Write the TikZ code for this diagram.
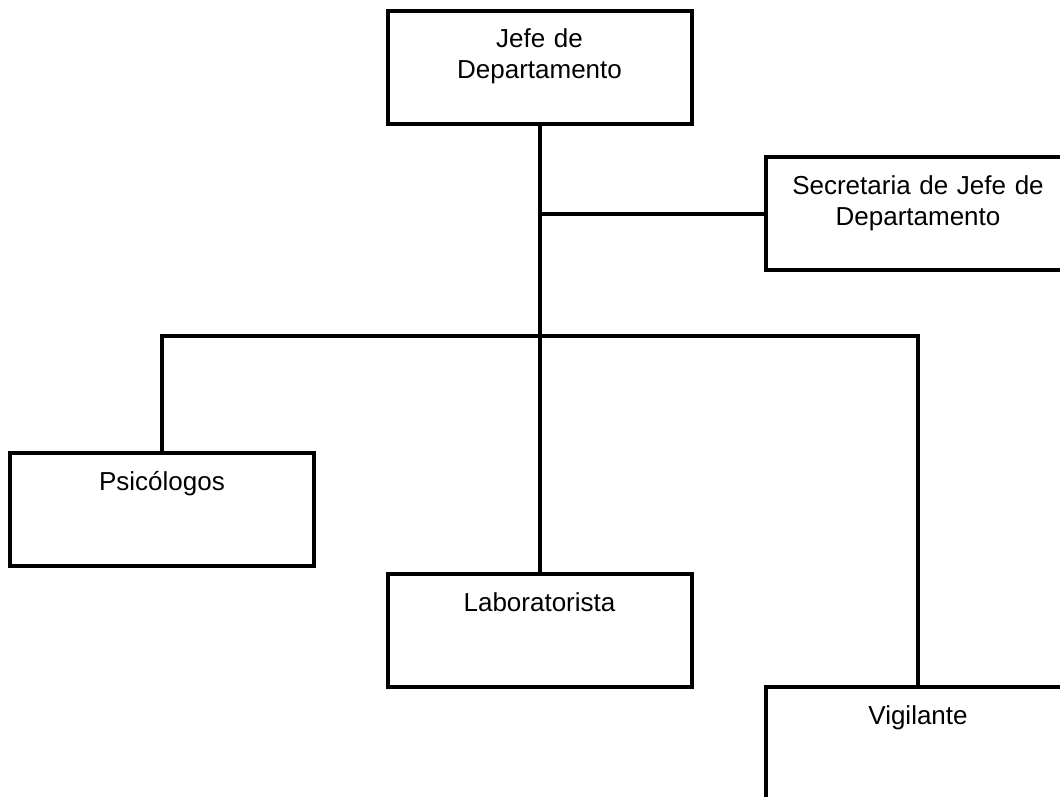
\documentclass[tikz,border=0pt]{standalone}
\usepackage{fontspec}
\setmainfont{Liberation Sans}

\begin{document}
\begin{tikzpicture}[
  x=0.5pt, y=-0.5pt,
  box/.style={draw, line width=2pt, anchor=north, outer sep=0pt, inner sep=0pt,
    text width=152pt, align=center, text height=18.5pt, text depth=38pt,
    font=\fontsize{13}{15.5}\selectfont},
  link/.style={line width=2pt},
]
  \useasboundingbox (0,0) rectangle (1060,797);
  \clip (0,0) rectangle (1060,797);
  \node[box] (jefe) at (539.5,11) {Jefe de\\Departamento};
  \node[box] (sec) at (918,157) {Secretaria de Jefe de\\Departamento};
  \node[box] (psi) at (162,453) {Psicólogos};
  \node[box] (lab) at (539.5,574) {Laboratorista};
  \node[box] (vig) at (918,687) {Vigilante};
  \coordinate (bus) at (539.5,336);
  \draw[link] (jefe.south) -- (lab.north);
  \draw[link] (jefe.south |- sec.west) -- (sec.west);
  \draw[link] (psi.north) |- (bus) -| (vig.north);
\end{tikzpicture}
\end{document}
